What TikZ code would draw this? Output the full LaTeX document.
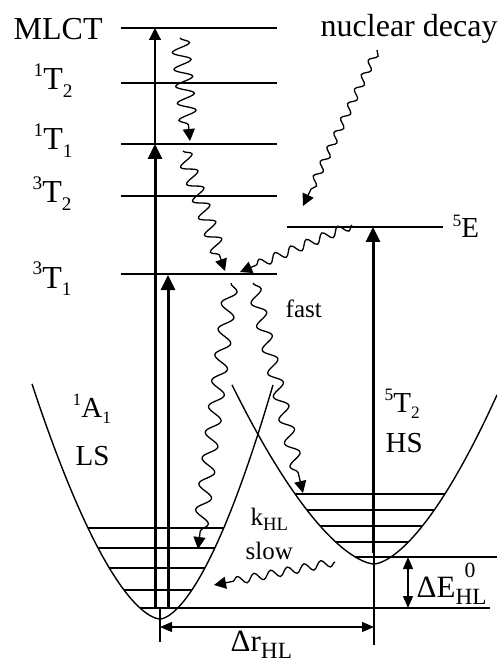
\documentclass[tikz,border=0pt]{standalone}
\usepackage{fontspec}
\setmainfont{Liberation Serif}
\usetikzlibrary{arrows.meta,decorations.pathmorphing}
\newcommand{\spinlab}[3]{\raisebox{0.9ex}{\scalebox{0.6}{#1}}#2\raisebox{-0.5ex}{\scalebox{0.6}{#3}}}
\newcommand{\sublab}[1]{\raisebox{-0.5ex}{\scalebox{0.75}{#1}}}

\begin{document}
\begin{tikzpicture}[x=0.5pt, y=-0.5pt, line width=0.7pt,
	lvline/.style={line width=0.7pt},
	biglab/.style={font=\fontsize{16}{18}\selectfont, inner sep=0pt, anchor=base west},
	midlab/.style={font=\fontsize{14.5}{17}\selectfont, inner sep=0pt, anchor=base west},
	smalllab/.style={font=\fontsize{12.5}{15}\selectfont, inner sep=0pt, anchor=base west},
	thickup/.style={line width=1.5pt, -{Triangle[length=7.5pt,width=7pt]}},
	thinup/.style={line width=0.6pt, -{Triangle[length=6pt,width=6pt]}},
	dimarrow/.style={line width=0.6pt, {Triangle[length=6pt,width=5pt]}-{Triangle[length=6pt,width=5pt]}},
	wavy/.style 2 args={line width=0.65pt, decorate, decoration={snake, amplitude=#1, segment length=#2, post length=6pt}},
	wavyarrow/.style 2 args={wavy={#1}{#2}, -{Triangle[length=6pt,width=6pt]}}]
	% 1. 画布大小 (与原图一致)
	\clip (0,0) rectangle (497,662);
	
	% 2. 左侧能级 (MLCT ... 3T1)
	\foreach \y in {28,83,144,196,274}
		\draw[lvline] (121,\y) -- (277,\y);
	\node[biglab] (mlct) at (13,40) {MLCT};
	\node[biglab] (t12) at (33,90) {\spinlab{1}{T}{2}};
	\node[biglab] (t11) at (33,150) {\spinlab{1}{T}{1}};
	\node[biglab] (t32) at (32,203) {\spinlab{3}{T}{2}};
	\node[biglab] (t31) at (32,288) {\spinlab{3}{T}{1}};
	\draw[lvline] (287,227) -- (443,227);
	\node[midlab] (e5) at (452,238) {\spinlab{5}{E}{}};
	
	% 3. 两条势能曲线 (LS 与 HS)
	\draw[domain=32:273, samples=120] plot (\x, {619 - (\x<160 ? 0.0784 : 0.0959)*pow(abs(\x-160)+0.01,1.65)});
	\draw[domain=232:497, samples=120] plot (\x, {564 - (\x<374 ? 0.0645 : 0.0766)*pow(abs(\x-374)+0.01,1.6)});
	
	% 4. 振动能级 (裁切到曲线内部)
	\begin{scope}
		\clip[domain=32:273, samples=120] plot (\x, {619 - (\x<160 ? 0.0784 : 0.0959)*pow(abs(\x-160)+0.01,1.65)});
		\foreach \y in {528,548,568,590}
			\draw[lvline] (30,\y) -- (280,\y);
	\end{scope}
	\begin{scope}
		\clip[domain=232:497, samples=120] plot (\x, {564 - (\x<374 ? 0.0645 : 0.0766)*pow(abs(\x-374)+0.01,1.6)});
		\foreach \y in {494,510,526,542}
			\draw[lvline] (230,\y) -- (497,\y);
	\end{scope}
	\draw[lvline] (140,608) -- (490,608);
	\draw[lvline] (355,557) -- (497,557);
	
	\node[midlab] (a1) at (72,417) {\spinlab{1}{A}{1}};
	\node[midlab] (ls) at (75,465) {LS};
	\node[midlab] (t52) at (384,412) {\spinlab{5}{T}{2}};
	\node[midlab] (hs) at (385,452) {HS};
	
	% 5. 激发 (竖直箭头)
	\coordinate (exa0) at (155,607); \coordinate (exa1) at (155,144); \coordinate (exa2) at (155,28);
	\coordinate (exb0) at (168,607); \coordinate (exb1) at (168,275);
	\coordinate (exc0) at (373,553); \coordinate (exc1) at (373,227);
	\draw[thinup] (exa1) -- (exa2);
	\draw[thickup] (exa0) -- (exa1);
	\draw[thickup] (exb0) -- (exb1);
	\draw[thickup] (exc0) -- (exc1);
	
	% 6. 弛豫 (波浪箭头)
	\coordinate (w1s) at (180,38);  \coordinate (w1e) at (190,141);
	\coordinate (w2s) at (183,151); \coordinate (w2e) at (225,271);
	\coordinate (w3s) at (377,50);  \coordinate (w3e) at (303,206);
	\coordinate (w4s) at (352,225); \coordinate (w4e) at (240,272);
	\coordinate (w5s) at (231,283); \coordinate (w5e) at (198,549);
	\coordinate (w6s) at (253,283); \coordinate (w6e) at (303,493);
	\coordinate (w7s) at (335,562); \coordinate (w7e) at (214,585);
	\draw[wavyarrow={4.5pt}{8.5pt}] (w1s) -- (w1e);
	\draw[wavyarrow={3.8pt}{9pt}] (w2s) -- (w2e);
	\draw[wavyarrow={1.8pt}{8pt}] (w3s) -- (w3e);
	\draw[wavyarrow={2.2pt}{8.5pt}] (w4s) -- (w4e);
	\draw[wavyarrow={3.6pt}{13pt}] (w5s) -- (w5e);
	\draw[wavyarrow={3.3pt}{12pt}] (w6s) -- (w6e);
	\draw[wavyarrow={2pt}{8.5pt}] (w7s) -- (w7e);
	\node[biglab] (nuc) at (320,37) {nuclear decay};
	\node[smalllab] (fast) at (285,317) {fast};
	\node[smalllab] (khl) at (250,525) {k\sublab{HL}};
	\node[smalllab] (slow) at (245,559) {slow};
	
	% 7. 位移与能隙标注
	\draw[lvline, line width=0.6pt] (160,608) -- (160,642);
	\draw[lvline, line width=0.6pt] (374,553) -- (374,645);
	\coordinate (dra) at (160,627); \coordinate (drb) at (374,627);
	\draw[dimarrow] (dra) -- (drb);
	\coordinate (dea) at (408,557); \coordinate (deb) at (408,608);
	\draw[dimarrow] (dea) -- (deb);
	\node[midlab, font=\fontsize{15.5}{18}\selectfont] (de) at (416,597) {ΔE\rlap{\hspace{4.5pt}\raisebox{1.35ex}{\scalebox{0.7}{0}}}\sublab{HL}};
	\node[midlab, font=\fontsize{15.5}{18}\selectfont] (dr) at (230,651) {Δr\sublab{HL}};
\end{tikzpicture}
\end{document}
